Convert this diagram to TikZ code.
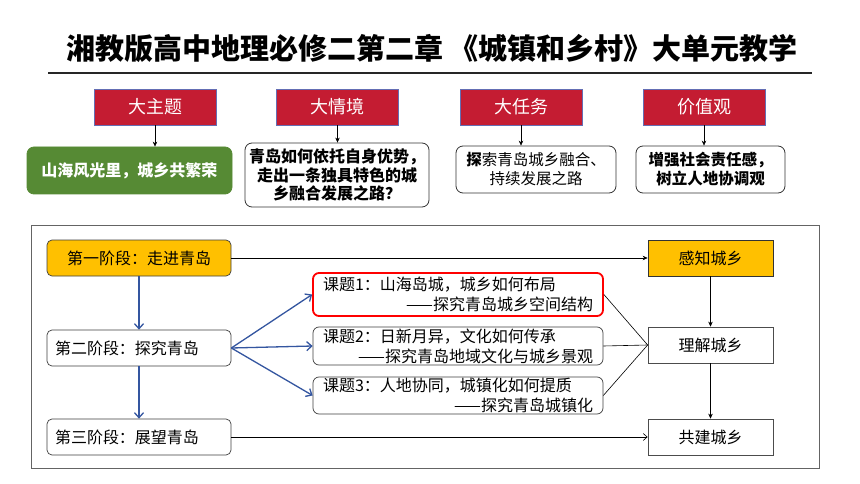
\documentclass[tikz,border=0pt]{standalone}
\usepackage{fontspec}
\setmainfont{Noto Sans CJK SC}
\usetikzlibrary{arrows.meta}
\definecolor{hdred}{RGB}{196,28,50}
\definecolor{hdgreen}{RGB}{86,138,52}
\definecolor{hdorange}{RGB}{255,192,0}
\definecolor{hdblue}{RGB}{52,86,160}
\definecolor{hdframe}{RGB}{100,100,100}
\definecolor{hdedge}{RGB}{100,110,180}
\tikzset{
  headbox/.style={draw=hdedge, line width=0.8pt, fill=hdred, text=white,
    minimum width=122pt, minimum height=36pt, inner sep=0pt,
    font=\fontsize{18}{20}\selectfont},
  answerbox/.style={draw=black!80, line width=0.8pt, rounded corners=7pt, fill=white,
    align=center, inner sep=0pt, font=\bfseries\fontsize{16}{18.5}\selectfont},
  stagebox/.style={draw=black!75, line width=0.7pt, rounded corners=5pt,
    minimum width=184pt, minimum height=36pt, inner sep=0pt,
    font=\fontsize{16}{19}\selectfont},
  stageleft/.style={stagebox, text width=168pt, align=left, inner xsep=8pt},
  topicbox/.style={draw=black!75, line width=0.7pt, rounded corners=6pt,
    text width=270pt, inner xsep=10pt, inner ysep=0pt, align=left,
    font=\fontsize{16}{20}\selectfont},
  resultbox/.style={draw=black!70, line width=0.7pt, minimum width=125pt,
    minimum height=36pt, inner sep=0pt, font=\fontsize{16}{19}\selectfont},
  thinarrow/.style={line width=0.6pt, -{Stealth[length=5pt,width=4.5pt]}},
  openarrow/.style={line width=0.6pt, -{Straight Barb[length=4pt,width=7pt]}},
  bluearrow/.style={draw=hdblue, line width=1.3pt, -{Straight Barb[length=5pt,width=9pt]}},
}
\begin{document}
\begin{tikzpicture}[x=1pt,y=-1pt]
\useasboundingbox[fill=white] (0,0) rectangle (860,484);

% title
\node[font=\bfseries\fontsize{29}{32}\selectfont] (title) at (432,48)
  {湘教版高中地理必修二第二章 《城镇和乡村》大单元教学};
\coordinate (ruleL) at (48,73);
\coordinate (ruleR) at (812,73);
\draw[line width=1.2pt, black!85] (ruleL) -- (ruleR);

% header boxes
\node[headbox] (h1) at (155,107) {大主题};
\node[headbox] (h2) at (337.5,107) {大情境};
\node[headbox] (h3) at (521,107) {大任务};
\node[headbox] (h4) at (704,107) {价值观};

% answer boxes
\node[answerbox, draw=hdgreen, fill=hdgreen, text=white, minimum width=205pt, minimum height=47pt] (a1) at (129.5,170.5)
  {山海风光里，城乡共繁荣};
\node[answerbox, minimum width=184pt, minimum height=64pt] (a2) at (337,175)
  {青岛如何依托自身优势，\\走出一条独具特色的城\\乡融合发展之路？};
\node[answerbox, minimum width=160pt, minimum height=47pt, font=\fontsize{15.5}{19}\selectfont] (a3) at (536,169.5)
  {{\bfseries 探}索青岛城乡融合、\\持续发展之路};
\node[answerbox, minimum width=149pt, minimum height=47pt, font=\bfseries\fontsize{15.5}{19}\selectfont] (a4) at (710.5,169.5)
  {增强社会责任感，\\树立人地协调观};

\foreach \h/\a in {h1/a1,h2/a2,h3/a3,h4/a4}
  \draw[thinarrow] (\h.south) -- (\h.south |- \a.north);

% lower frame
\draw[hdframe, line width=0.9pt] (31,225) rectangle (819,468);

% stages
\node[stagebox, fill=hdorange] (s1) at (139,258) {第一阶段：走进青岛};
\node[stageleft] (s2) at (139,348) {第二阶段：探究青岛};
\node[stageleft] (s3) at (139,437) {第三阶段：展望青岛};

% topics
\node[topicbox, draw=red, line width=1.8pt, minimum height=43pt] (k1) at (458,294.5)
  {课题1：山海岛城，城乡如何布局\\\mbox{}\hfill——探究青岛城乡空间结构};
\node[topicbox, minimum height=38pt] (k2) at (458,346)
  {课题2：日新月异，文化如何传承\\\mbox{}\hfill——探究青岛地域文化与城乡景观};
\node[topicbox, minimum height=37pt] (k3) at (458,395.5)
  {课题3：人地协同，城镇化如何提质\\\mbox{}\hfill——探究青岛城镇化};

% results
\node[resultbox, fill=hdorange, draw=black!80] (r1) at (710.5,258) {感知城乡};
\node[resultbox] (r2) at (710.5,345) {理解城乡};
\node[resultbox] (r3) at (710.5,437) {共建城乡};

% connectors
\draw[bluearrow] (s1) -- (s2);
\draw[bluearrow] (s2) -- (s3);
\draw[bluearrow] (s2.east) -- (k1.west);
\draw[bluearrow] (s2.east) -- (k2.west);
\draw[bluearrow] (s2.east) -- (k3.west);

\draw[thinarrow] (s1) -- (r1);
\draw[openarrow] (s3) -- (r3);
\draw[thinarrow] (r1) -- (r2);
\draw[thinarrow] (r2) -- (r3);

\draw[line width=0.6pt] (k1.east) -- (r2.west);
\draw[line width=0.6pt] (k2.east) -- (r2.west);
\draw[line width=0.6pt] (k3.east) -- (r2.west);
\end{tikzpicture}
\end{document}
